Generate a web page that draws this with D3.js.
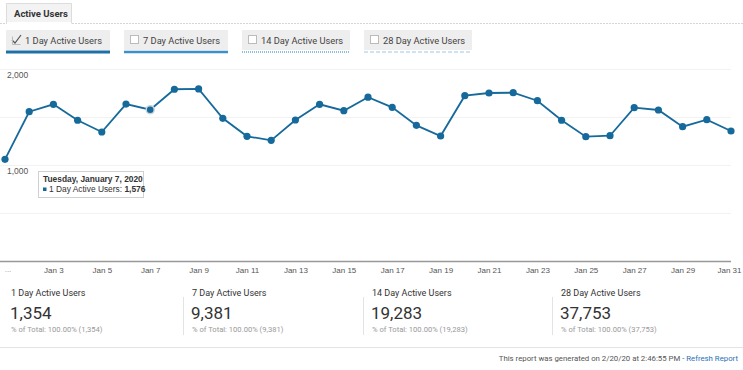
<!DOCTYPE html>
<html>
<head>
<meta charset="utf-8">
<script src="https://cdn.jsdelivr.net/npm/d3@7"></script>
<style>
  body { margin: 0; background: #fff; }
  svg { display: block; font-family: Roboto, "Liberation Sans", Arial, sans-serif; }
</style>
</head>
<body>
<svg id="drawing_region"></svg>
<script>
// daily 1 Day Active Users, Jan 1 .. Jan 31 2020
const days = d3.range(1, 32);
const activeUsers = [1059, 1555, 1632, 1466, 1344, 1635, 1576, 1789, 1792, 1486,
                     1299, 1257, 1469, 1632, 1566, 1707, 1601, 1413, 1302, 1722,
                     1750, 1753, 1670, 1466, 1295, 1305, 1597, 1573, 1399, 1472, 1354];
const tickDays = [3, 5, 7, 9, 11, 13, 15, 17, 19, 21, 23, 25, 27, 29, 31];
const yGrid = [500, 1000, 1500, 2000];
const yLabels = [1000, 2000];
const metricNames = ['1 Day Active Users', '7 Day Active Users', '14 Day Active Users', '28 Day Active Users'];
const metricTotals = [1354, 9381, 19283, 37753];
const hoverDay = 7;

const W = 743, H = 370;
const blue = '#166a9b';
const fmt = d3.format(',');

const svg = d3.select('#drawing_region').attr('width', W).attr('height', H);

// ---- tab strip
svg.append('line').attr('x1', 0).attr('x2', W).attr('y1', 23.5).attr('y2', 23.5)
    .attr('stroke', '#d6d6d6').attr('stroke-dasharray', '2,1');
svg.append('path').attr('d', 'M6.5,23.5 V3.5 H71.5 V23.5')
    .attr('fill', '#f3f3f3').attr('stroke', '#dcdcdc');
svg.append('rect').attr('x', 7).attr('y', 22).attr('width', 64).attr('height', 3).attr('fill', '#fff');
svg.append('text').attr('x', 14).attr('y', 17).attr('font-size', 9.5).attr('font-weight', 'bold')
    .attr('fill', '#333').text('Active Users');

// ---- metric selector buttons
const btnX = [6, 124, 242, 364];
const btnW = [104, 104, 108, 108];
const underline = [
  {color: '#1d6fa5', width: 3, dash: null},
  {color: '#3d8fc7', width: 2.5, dash: null},
  {color: '#6aaad6', width: 1.5, dash: '1,1'},
  {color: '#9cc9e6', width: 1, dash: '4,2'}
];
const btn = svg.selectAll('g.btn').data(metricNames).join('g')
    .attr('class', 'btn')
    .attr('transform', (d, i) => `translate(${btnX[i]},30)`);
btn.append('rect').attr('width', (d, i) => btnW[i]).attr('height', 20).attr('fill', '#eeeeee');
btn.append('line').attr('x1', 0).attr('x2', (d, i) => btnW[i]).attr('y1', 22).attr('y2', 22)
    .attr('stroke', (d, i) => underline[i].color)
    .attr('stroke-width', (d, i) => underline[i].width)
    .attr('stroke-dasharray', (d, i) => underline[i].dash);
btn.filter((d, i) => i > 0).append('rect')
    .attr('x', 6.5).attr('y', 5.5).attr('width', 8).attr('height', 8)
    .attr('fill', '#fff').attr('stroke', '#bbb');
btn.filter((d, i) => i === 0).append('path')
    .attr('d', 'M6,10 L9,13 L15,5').attr('fill', 'none').attr('stroke', '#555').attr('stroke-width', 1.2);
btn.filter((d, i) => i === 0).append('path')
    .attr('d', 'M6.5,6.5 V14.5 H14.5').attr('fill', 'none').attr('stroke', '#bbb');
btn.append('text').attr('x', 19).attr('y', 14).attr('font-size', 9.3).attr('fill', '#444')
    .text(d => d);

// ---- chart
const x = d3.scaleLinear().domain([1, 31]).range([5, 731]);
const y = d3.scaleLinear().domain([0, 2000]).range([261, 69]);

svg.append('g').selectAll('line').data(yGrid).join('line')
    .attr('x1', 0).attr('x2', 731)
    .attr('y1', d => Math.round(y(d)) + 0.5).attr('y2', d => Math.round(y(d)) + 0.5)
    .attr('stroke', '#f2f2f2');

svg.append('g').selectAll('text').data(yLabels).join('text')
    .attr('x', 7).attr('y', d => y(d) + 9)
    .attr('font-family', '"Liberation Sans", Arial, sans-serif')
    .attr('font-size', 8.5).attr('fill', '#555')
    .text(d => fmt(d));

const xaxis = d3.axisBottom(x).tickValues(tickDays).tickSize(0).tickPadding(6)
    .tickFormat(d => 'Jan ' + d);
const xaxis_group = svg.append('g').attr('transform', 'translate(0,261)').call(xaxis);
xaxis_group.select('.domain').attr('d', 'M0,0.5H731').attr('stroke', '#999').attr('stroke-width', 1.5);
xaxis_group.selectAll('text')
    .attr('font-family', '"Liberation Sans", Arial, sans-serif')
    .attr('font-size', 8).attr('fill', '#555');
xaxis_group.selectAll('.tick text').attr('dx', (d, i) => i === tickDays.length - 1 ? -2 : 0);
xaxis_group.append('text').attr('x', x(1) + 3).attr('y', 11).attr('text-anchor', 'middle')
    .attr('font-size', 8).attr('fill', '#999').attr('font-family', '"Liberation Sans", Arial, sans-serif')
    .text('...');

const series = days.map((d, i) => ({day: d, value: activeUsers[i]}));
svg.append('path').datum(series)
    .attr('fill', 'none').attr('stroke', blue).attr('stroke-width', 1.8)
    .attr('d', d3.line().x(d => x(d.day)).y(d => y(d.value)));
svg.append('g').selectAll('circle').data(series).join('circle')
    .attr('cx', d => x(d.day)).attr('cy', d => y(d.value))
    .attr('r', d => d.day === hoverDay ? 4 : 3.6)
    .attr('fill', blue)
    .attr('stroke', d => d.day === hoverDay ? '#c9d3da' : 'none')
    .attr('stroke-width', 1.5);

// ---- tooltip
const tip = series.find(d => d.day === hoverDay);
const tg = svg.append('g').attr('transform', 'translate(38,171)')
    .attr('font-family', '"Liberation Sans", Arial, sans-serif').attr('font-size', 8.4).attr('fill', '#333');
tg.append('rect').attr('x', 0.5).attr('y', 0.5).attr('width', 105).attr('height', 26)
    .attr('fill', '#fff').attr('stroke', '#d0d0d0');
tg.append('text').attr('x', 5).attr('y', 10.5).attr('font-weight', 'bold').text('Tuesday, January 7, 2020');
tg.append('rect').attr('x', 5).attr('y', 16.5).attr('width', 3.5).attr('height', 3.5).attr('fill', blue);
const t2 = tg.append('text').attr('x', 11).attr('y', 21);
t2.append('tspan').text('1 Day Active Users: ');
t2.append('tspan').attr('font-weight', 'bold').text(fmt(tip.value));

// ---- summary scorecards
const colX = [11, 192, 372, 561];
const card = svg.selectAll('g.card').data(metricNames).join('g')
    .attr('class', 'card')
    .attr('transform', (d, i) => `translate(${colX[i]},0)`);
card.filter((d, i) => i > 0).append('line')
    .attr('x1', -8.5).attr('x2', -8.5).attr('y1', 297).attr('y2', 335).attr('stroke', '#e3e3e3');
card.append('text').attr('y', 296).attr('font-size', 9).attr('fill', '#333').text(d => d);
card.append('text').attr('x', -1).attr('y', 319).attr('font-size', 17).attr('fill', '#333')
    .text((d, i) => fmt(metricTotals[i]));
card.append('text').attr('y', 332).attr('font-size', 7.6).attr('fill', '#999')
    .text((d, i) => `% of Total: 100.00% (${fmt(metricTotals[i])})`);

svg.append('line').attr('x1', 0).attr('x2', W).attr('y1', 347.5).attr('y2', 347.5).attr('stroke', '#e3e3e3');

// ---- footer
const foot = svg.append('text').attr('x', 738).attr('y', 361).attr('text-anchor', 'end')
    .attr('font-size', 7.8).attr('fill', '#555');
foot.append('tspan').text('This report was generated on 2/20/20 at 2:46:55 PM - ');
foot.append('tspan').attr('fill', '#2b72b8').text('Refresh Report');
</script>
</body>
</html>
